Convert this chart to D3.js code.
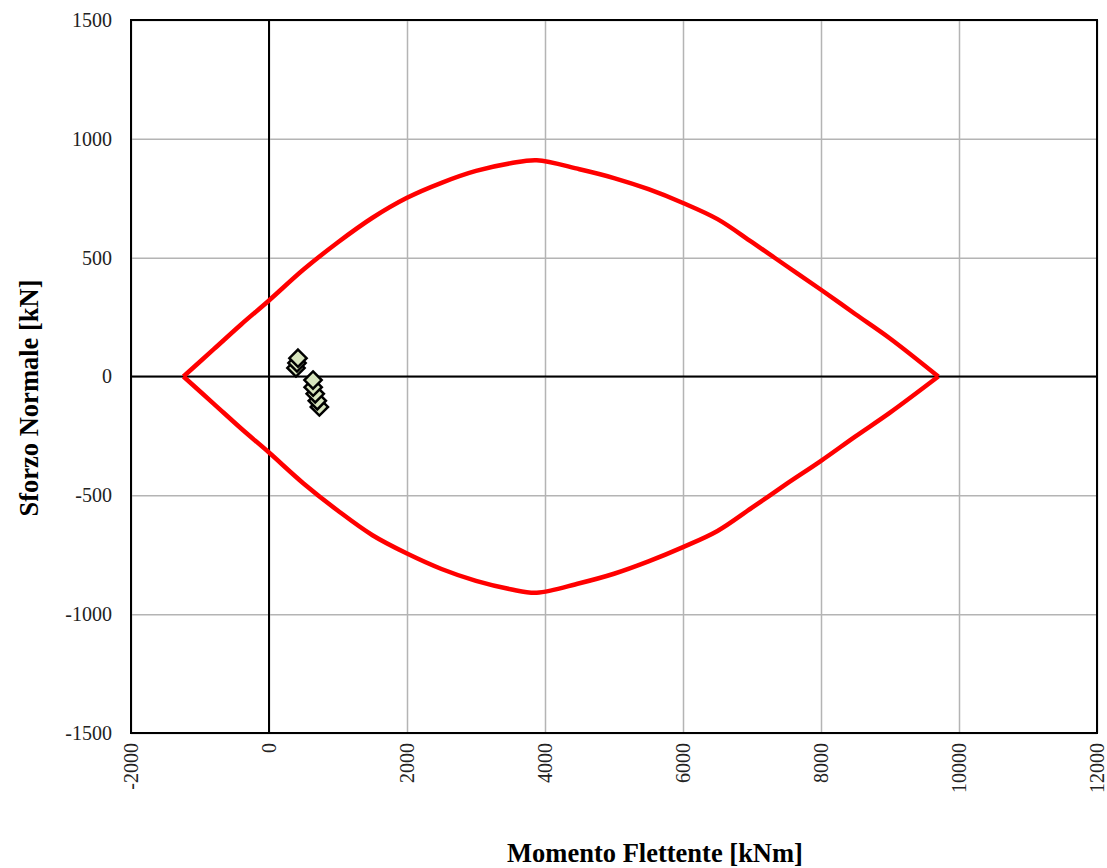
<!DOCTYPE html>
<html lang="it">
<head>
<meta charset="utf-8">
<title>Dominio M-N</title>
<script src="https://cdn.jsdelivr.net/npm/d3@7"></script>
<style>
  body { margin: 0; background: #fff; }
  text { font-family: "Liberation Serif", "Times New Roman", serif; }
</style>
</head>
<body>
<script>
// dominio resistente: ramo superiore e inferiore (M [kNm], N [kN])
var upperM = [-1240, -800, -400, 0, 500, 1000, 1500, 2000, 2500, 3000, 3500, 3880, 4500, 5000, 5500, 6000, 6500, 7000, 7500, 8000, 8500, 9000, 9700];
var upperN = [0, 115, 220, 320, 450, 565, 668, 752, 815, 865, 897, 910, 872, 835, 788, 730, 662, 565, 465, 365, 262, 160, 0];
var lowerM = [-1240, -800, -400, 0, 500, 1000, 1500, 2000, 2500, 3000, 3500, 3880, 4500, 5000, 5500, 6000, 6500, 7000, 7500, 8000, 8500, 9000, 9700];
var lowerN = [0, -115, -220, -320, -450, -565, -668, -745, -810, -860, -895, -910, -870, -830, -778, -718, -650, -552, -452, -355, -252, -152, 0];

// sollecitazioni di verifica
var loadM = [391, 406, 420, 730, 700, 670, 640, 638];
var loadN = [36, 57, 77, -128, -102, -73, -45, -15];

var xTicks = [-2000, 0, 2000, 4000, 6000, 8000, 10000, 12000];
var yTicks = [-1500, -1000, -500, 0, 500, 1000, 1500];

var width = 1107, height = 868;
var pLeft = 131, pRight = 1097, pTop = 20, pBottom = 733;

var x = d3.scaleLinear().domain([-2000, 12000]).range([pLeft, pRight]);
var y = d3.scaleLinear().domain([-1500, 1500]).range([pBottom, pTop]);

var svg = d3.select("body").append("svg")
            .attr("width", width)
            .attr("height", height);

// griglia
svg.append("g")
   .attr("transform", "translate(0," + pBottom + ")")
   .call(d3.axisBottom(x).tickValues(xTicks).tickSize(-(pBottom - pTop)).tickFormat(""))
   .call(function(g) {
     g.select(".domain").remove();
     g.selectAll("line").attr("stroke", "#b4b4b4").attr("stroke-width", 1.5);
   });

svg.append("g")
   .attr("transform", "translate(" + pLeft + ",0)")
   .call(d3.axisLeft(y).tickValues(yTicks).tickSize(-(pRight - pLeft)).tickFormat(""))
   .call(function(g) {
     g.select(".domain").remove();
     g.selectAll("line").attr("stroke", "#b4b4b4").attr("stroke-width", 1.5);
   });

// assi per lo zero
svg.append("line")
   .attr("x1", x(0)).attr("x2", x(0))
   .attr("y1", pTop).attr("y2", pBottom)
   .attr("stroke", "black").attr("stroke-width", 2);
svg.append("line")
   .attr("x1", pLeft).attr("x2", pRight)
   .attr("y1", y(0)).attr("y2", y(0))
   .attr("stroke", "black").attr("stroke-width", 2);

// cornice
svg.append("rect")
   .attr("x", pLeft).attr("y", pTop)
   .attr("width", pRight - pLeft).attr("height", pBottom - pTop)
   .attr("fill", "none")
   .attr("stroke", "black")
   .attr("stroke-width", 2);

// etichette asse y
svg.append("g")
   .attr("transform", "translate(" + pLeft + ",0)")
   .call(d3.axisLeft(y).tickValues(yTicks).tickSize(0).tickPadding(19).tickFormat(function(d) { return String(d); }))
   .call(function(g) {
     g.select(".domain").remove();
     g.selectAll("text")
      .attr("font-family", "Liberation Serif")
      .attr("font-size", 20)
      .attr("fill", "#222");
   });

// etichette asse x (ruotate)
svg.append("g")
   .selectAll("text")
   .data(xTicks)
   .enter()
   .append("text")
   .attr("transform", function(d) { return "translate(" + (x(d) + 7) + "," + (pBottom + 10) + ") rotate(-90)"; })
   .attr("text-anchor", "end")
   .attr("font-size", 20)
   .attr("fill", "#222")
   .text(function(d) { return String(d); });

// dominio
var line = d3.line()
             .x(function(d) { return x(d[0]); })
             .y(function(d) { return y(d[1]); })
             .curve(d3.curveCatmullRom);

var upper = upperM.map(function(m, i) { return [m, upperN[i]]; });
var lower = lowerM.map(function(m, i) { return [m, lowerN[i]]; });

[upper, lower].forEach(function(pts) {
  svg.append("path")
     .datum(pts)
     .attr("d", line)
     .attr("fill", "none")
     .attr("stroke", "#ff0000")
     .attr("stroke-width", 4.5)
     .attr("stroke-linejoin", "round");
});

// punti di verifica
var diamond = d3.symbol().type(d3.symbolDiamond2).size(190);
svg.append("g")
   .selectAll("path")
   .data(loadM.map(function(m, i) { return [m, loadN[i]]; }))
   .enter()
   .append("path")
   .attr("d", diamond)
   .attr("transform", function(d) { return "translate(" + x(d[0]) + "," + y(d[1]) + ")"; })
   .attr("fill", "#d7e4bd")
   .attr("stroke", "black")
   .attr("stroke-width", 2.5);

// titoli assi
svg.append("text")
   .attr("x", 655)
   .attr("y", 862)
   .attr("text-anchor", "middle")
   .attr("font-size", 26.5)
   .attr("font-weight", "bold")
   .text("Momento Flettente [kNm]");

svg.append("text")
   .attr("transform", "translate(38,398) rotate(-90)")
   .attr("text-anchor", "middle")
   .attr("font-size", 26.5)
   .attr("font-weight", "bold")
   .text("Sforzo Normale [kN]");
</script>
</body>
</html>
